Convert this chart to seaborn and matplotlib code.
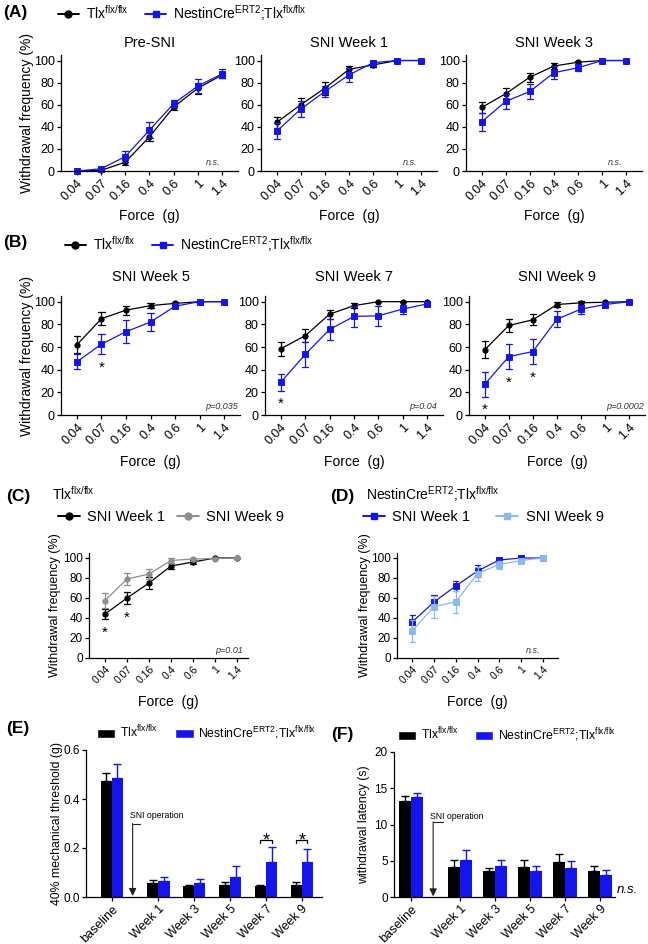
import matplotlib

matplotlib.use("Agg")
import matplotlib.pyplot as plt
import numpy as np
import pandas as pd
import seaborn as sns
from matplotlib.lines import Line2D
from matplotlib.patches import Patch

sns.set_theme(style="ticks")
plt.rcParams["font.family"] = ["Liberation Sans", "DejaVu Sans"]
plt.rcParams["mathtext.fontset"] = "custom"
plt.rcParams["mathtext.rm"] = "Liberation Sans"
plt.rcParams["mathtext.it"] = "Liberation Sans:italic"
plt.rcParams["mathtext.bf"] = "Liberation Sans:bold"
for key in ("text.color", "axes.labelcolor", "xtick.color", "ytick.color", "axes.edgecolor"):
    plt.rcParams[key] = "black"
plt.rcParams["axes.linewidth"] = 0.9

W, H = 648, 944

WT = r"Tlx$^{\mathregular{flx/flx}}$"
KO = r"NestinCre$^{\mathregular{ERT2}}$;Tlx$^{\mathregular{flx/flx}}$"
BLACK = "#000000"
BLUE = "#1414f0"
GRAY = "#8e8e8e"
LIGHT_BLUE = "#8cb8f0"

# --- von Frey curves: mean and SEM (%) per filament force ---
FORCES = ["0.04", "0.07", "0.16", "0.4", "0.6", "1", "1.4"]

PRE_WT = [0, 0.5, 8, 31, 58, 75, 87]
PRE_WT_SEM = [0, 0.5, 3, 4, 3, 5, 3]
PRE_KO = [0, 2, 13, 37, 61, 77, 88]
PRE_KO_SEM = [0, 1.5, 5, 7, 3, 6, 4]

W1_WT = [44, 60, 75, 92, 96, 100, 100]
W1_WT_SEM = [5, 6, 6, 3, 2, 0, 0]
W1_KO = [36, 56, 72, 87, 98, 100, 100]
W1_KO_SEM = [7, 7, 5, 6, 2, 0, 0]

W3_WT = [57.5, 70, 85, 95, 98.5, 100, 100]
W3_WT_SEM = [5, 5, 4, 3, 1.5, 0, 0]
W3_KO = [44.5, 63, 72, 89, 93.5, 100, 100]
W3_KO_SEM = [8, 7, 7, 6, 3, 0, 0]

W5_WT = [62, 85, 92.5, 96.5, 98.5, 100, 100]
W5_WT_SEM = [7.5, 6, 4, 2.5, 1, 0, 0]
W5_KO = [47, 62.5, 73.5, 82, 96, 100, 100]
W5_KO_SEM = [6.5, 9, 10, 8, 2, 0, 0]

W7_WT = [58.5, 70, 89, 96.5, 100, 100, 100]
W7_WT_SEM = [6, 6, 4, 2.5, 0, 0, 0]
W7_KO = [29, 53.5, 75.5, 87, 87.5, 93.5, 98]
W7_KO_SEM = [7.5, 11, 9.5, 9, 9, 4, 2]

W9_WT = [57.5, 79, 84, 97.5, 99, 99.5, 100]
W9_WT_SEM = [7.5, 6, 5, 2.5, 1.5, 0.5, 0]
W9_KO = [27, 51.5, 56, 84.5, 93.5, 97.5, 100]
W9_KO_SEM = [11, 11, 11, 7, 4, 2, 0]

# --- 40% threshold (g) and thermal latency (s) ---
WEEKS = ["baseline", "Week 1", "Week 3", "Week 5", "Week 7", "Week 9"]
E_WT = [0.475, 0.059, 0.045, 0.050, 0.045, 0.050]
E_WT_SEM = [0.030, 0.012, 0.005, 0.011, 0.004, 0.010]
E_KO = [0.487, 0.065, 0.056, 0.082, 0.143, 0.143]
E_KO_SEM = [0.054, 0.016, 0.016, 0.043, 0.062, 0.053]
E_STARS = [4, 5]

F_WT = [13.2, 4.1, 3.55, 4.15, 4.8, 3.55]
F_WT_SEM = [0.8, 0.95, 0.5, 1.0, 1.1, 0.75]
F_KO = [13.8, 5.05, 4.3, 3.65, 4.0, 3.0]
F_KO_SEM = [0.6, 1.4, 0.75, 0.65, 0.9, 0.75]

# layout (pixels: left, top, right, bottom)
A_BOXES = [(61, 55, 238, 171), (261, 55, 437, 171), (466, 55, 642, 171)]
B_BOXES = [(61, 296, 240, 415), (265, 296, 443, 415), (469, 296, 645, 415)]
C_BOX = (89, 553, 248, 658)
D_BOX = (397, 553, 558, 658)
E_BOX = (86, 750, 322, 897)
F_BOX = (394, 752, 615, 897)
E_SLOTS = [0, 1.3, 2.3, 3.3, 4.3, 5.3]
F_SLOTS = [0, 1.4, 2.4, 3.4, 4.4, 5.4]


def add_axes_px(fig, box):
    left, top, right, bottom = box
    return fig.add_axes([left / W, 1 - bottom / H, (right - left) / W, (bottom - top) / H])


def place_labels(ax, box, ylabel_right=None, xlabel_top=None):
    left, top, right, bottom = box
    if ylabel_right is not None:
        ax.yaxis.set_label_coords((ylabel_right - left) / (right - left), 0.5)
    if xlabel_top is not None:
        ax.xaxis.set_label_coords(0.5, (bottom - xlabel_top) / (bottom - top))


def sem_span(values):
    return values.min(), values.max()


def curve_frame(curves):
    rows = []
    for name, means, sems in curves:
        for force, m, s in zip(FORCES, means, sems):
            rows.append((name, force, m - s))
            rows.append((name, force, m + s))
    return pd.DataFrame(rows, columns=["group", "force", "freq"])


def draw_curves(ax, curves, colors, markers, xlim, tick_sizes=(9, 9)):
    sns.pointplot(
        data=curve_frame(curves), x="force", y="freq", hue="group", order=FORCES,
        hue_order=[c[0] for c in curves], palette=colors, markers=markers,
        linestyles="-", markersize=3.8, linewidth=0.9, errorbar=sem_span,
        capsize=0.25, err_kws={"linewidth": 0.9}, dodge=False, legend=False, ax=ax,
    )
    for artist in [*ax.lines, *ax.collections]:
        artist.set_clip_on(False)
    ax.set_xlim(*xlim)
    ax.set_ylim(0, 105)
    ax.set_yticks(range(0, 101, 20))
    ax.set_xlabel("Force  (g)", fontsize=10)
    ax.set_ylabel("")
    ax.tick_params(axis="x", labelsize=tick_sizes[0], rotation=45, length=3, width=0.9, pad=1.5)
    ax.tick_params(axis="y", labelsize=tick_sizes[1], length=3, width=0.9, pad=1.5)
    for label in ax.get_xticklabels():
        label.set_ha("right")
        label.set_rotation_mode("anchor")
    sns.despine(ax=ax)


def add_stars(ax, idx, means, sems):
    for i in idx:
        ax.annotate("*", xy=(i, means[i] - sems[i]), xytext=(0, -12.5),
                    textcoords="offset points", ha="center", va="baseline", fontsize=11)


def corner_note(ax, x, text, size=6.5):
    ax.text(x, 0.075, text, transform=ax.transAxes, ha="right", va="center",
            fontsize=size, style="italic", color="#333333")


def draw_bars(ax, slots, wt, wt_sem, ko, ko_sem, width):
    frame = pd.DataFrame({
        "slot": list(slots) * 2,
        "value": wt + ko,
        "group": [WT] * len(wt) + [KO] * len(ko),
    })
    sns.barplot(data=frame, x="slot", y="value", hue="group", hue_order=[WT, KO],
                palette=[BLACK, BLUE], native_scale=True, width=width, errorbar=None,
                saturation=1, linewidth=0, legend=False, ax=ax)
    bar_sets = list(ax.containers)
    for bars, sems, color in zip(bar_sets, (wt_sem, ko_sem), (BLACK, BLUE)):
        xs = [b.get_x() + b.get_width() / 2 for b in bars]
        ys = [b.get_height() for b in bars]
        ax.errorbar(xs, ys, yerr=[np.zeros(len(sems)), sems], fmt="none",
                    ecolor=color, elinewidth=1, capsize=3, capthick=1)
    ax.set_xticks(slots, WEEKS, rotation=45, ha="right", rotation_mode="anchor", fontsize=9)
    ax.set_xlabel("")
    ax.tick_params(axis="both", length=3, width=0.9, pad=1.5)
    ax.tick_params(axis="y", labelsize=8.5)
    sns.despine(ax=ax)
    return bar_sets


def sni_arrow(ax, text_xy, corner, tip_y, hook_x):
    ax.text(*text_xy, "SNI operation", fontsize=6.3, ha="left", va="center")
    ax.plot([hook_x, corner[0]], [corner[1], corner[1]], color="#222222", lw=0.8)
    ax.annotate("", xy=(corner[0], tip_y), xytext=corner,
                arrowprops=dict(arrowstyle="-|>,head_length=0.45,head_width=0.22",
                                color="#222222", lw=0.8, shrinkA=0, shrinkB=0,
                                mutation_scale=10))


def line_handles(colors, markers):
    return [Line2D([0], [0], color=c, marker=m, markersize=5, linewidth=1.4)
            for c, m in zip(colors, markers)]


fig = plt.figure(figsize=(W / 100, H / 100), dpi=100)

# (A) and (B) rows
row_a = [("Pre-SNI", PRE_WT, PRE_WT_SEM, PRE_KO, PRE_KO_SEM, "n.s.", 0.9),
         ("SNI Week 1", W1_WT, W1_WT_SEM, W1_KO, W1_KO_SEM, "n.s.", 0.886),
         ("SNI Week 3", W3_WT, W3_WT_SEM, W3_KO, W3_KO_SEM, "n.s.", 0.886)]
row_b = [("SNI Week 5", W5_WT, W5_WT_SEM, W5_KO, W5_KO_SEM, "p=0.035", 0.99, [1]),
         ("SNI Week 7", W7_WT, W7_WT_SEM, W7_KO, W7_KO_SEM, "p=0.04", 0.966, [0]),
         ("SNI Week 9", W9_WT, W9_WT_SEM, W9_KO, W9_KO_SEM, "p=0.0002", 0.994, [0, 1, 2])]

for i, (box, (title, wt, wts, ko, kos, note, nx)) in enumerate(zip(A_BOXES, row_a)):
    ax = add_axes_px(fig, box)
    draw_curves(ax, [(WT, wt, wts), (KO, ko, kos)], [BLACK, BLUE], ["o", "s"], (-0.65, 6.65))
    ax.set_title(title, fontsize=10.5, pad=5.5)
    corner_note(ax, nx, note)
    if i == 0:
        ax.set_ylabel("Withdrawal frequency (%)", fontsize=10)
    place_labels(ax, box, ylabel_right=34, xlabel_top=209)

for i, (box, (title, wt, wts, ko, kos, note, nx, stars)) in enumerate(zip(B_BOXES, row_b)):
    ax = add_axes_px(fig, box)
    draw_curves(ax, [(WT, wt, wts), (KO, ko, kos)], [BLACK, BLUE], ["o", "s"], (-0.65, 6.65))
    ax.set_title(title, fontsize=10.5, pad=11)
    corner_note(ax, nx, note)
    add_stars(ax, stars, ko, kos)
    if i == 0:
        ax.set_ylabel("Withdrawal frequency (%)", fontsize=10)
    place_labels(ax, box, ylabel_right=34, xlabel_top=455)

# (C) Tlx flx/flx week 1 vs week 9
ax = add_axes_px(fig, C_BOX)
draw_curves(ax, [("SNI Week 1", W1_WT, W1_WT_SEM), ("SNI Week 9", W9_WT, W9_WT_SEM)],
            [BLACK, GRAY], ["o", "o"], (-0.73, 6.5), tick_sizes=(7.5, 8.5))
add_stars(ax, [0, 1], W1_WT, W1_WT_SEM)
corner_note(ax, 0.97, "p=0.01")
ax.set_ylabel("Withdrawal frequency (%)", fontsize=9)
place_labels(ax, C_BOX, ylabel_right=61, xlabel_top=695)

# (D) NestinCre week 1 vs week 9
ax = add_axes_px(fig, D_BOX)
draw_curves(ax, [("SNI Week 1", W1_KO, W1_KO_SEM), ("SNI Week 9", W9_KO, W9_KO_SEM)],
            [BLUE, LIGHT_BLUE], ["s", "s"], (-0.7, 6.7), tick_sizes=(7.5, 8.5))
corner_note(ax, 0.89, "n.s.")
ax.set_ylabel("Withdrawal frequency (%)", fontsize=9)
place_labels(ax, D_BOX, ylabel_right=371, xlabel_top=695)

# (E) 40% mechanical threshold
ax = add_axes_px(fig, E_BOX)
bar_sets = draw_bars(ax, E_SLOTS, E_WT, E_WT_SEM, E_KO, E_KO_SEM, 0.62)
ax.set_xlim(-0.72, 5.86)
ax.set_ylim(0, 0.6)
ax.set_yticks([0, 0.2, 0.4, 0.6], ["0.0", "0.2", "0.4", "0.6"])
ax.set_ylabel("40% mechanical threshold (g)", fontsize=8.8)
place_labels(ax, E_BOX, ylabel_right=63)
sni_arrow(ax, (0.5, 0.334), (0.58, 0.30), 0.004, 0.78)
bracket_y = 0.232
for i in E_STARS:
    x0 = bar_sets[0][i].get_x() + bar_sets[0][i].get_width() / 2
    x1 = bar_sets[1][i].get_x() + bar_sets[1][i].get_width() / 2
    ax.plot([x0, x0, x1, x1], [bracket_y - 0.01, bracket_y, bracket_y, bracket_y - 0.01],
            color=BLACK, lw=0.9)
    ax.annotate("*", xy=((x0 + x1) / 2, bracket_y), xytext=(0, -3.5),
                textcoords="offset points", ha="center", va="baseline", fontsize=13)

# (F) thermal withdrawal latency
ax = add_axes_px(fig, F_BOX)
draw_bars(ax, F_SLOTS, F_WT, F_WT_SEM, F_KO, F_KO_SEM, 0.68)
ax.set_xlim(-0.49, 5.83)
ax.set_ylim(0, 20)
ax.set_yticks([0, 5, 10, 15, 20])
ax.set_ylabel("withdrawal latency (s)", fontsize=8.8)
place_labels(ax, F_BOX, ylabel_right=370)
sni_arrow(ax, (0.54, 11.1), (0.63, 10.35), 0.08, 0.91)
ax.text(1.01, 0.045, "n.s.", transform=ax.transAxes, ha="left", va="center",
        fontsize=9.5, style="italic")

# panel letters, titles and legends
for letter, x, y in [("(A)", 3, 13), ("(B)", 3, 243), ("(C)", 6, 497),
                     ("(D)", 330, 497), ("(E)", 6, 728), ("(F)", 331, 735)]:
    fig.text(x / W, 1 - y / H, letter, fontsize=12.5, fontweight="bold", va="center")
fig.text(52 / W, 1 - 494 / H, WT, fontsize=10, va="center")
fig.text(366 / W, 1 - 494 / H, KO, fontsize=10, va="center")

legend_kw = dict(loc="center left", ncol=2, frameon=False, borderpad=0,
                 borderaxespad=0, handletextpad=0.5)
fig.legend(line_handles([BLACK, BLUE], ["o", "s"]), [WT, KO], fontsize=10,
           bbox_to_anchor=(58 / W, 1 - 13 / H), handlelength=1.5, columnspacing=1.2,
           **legend_kw)
fig.legend(line_handles([BLACK, BLUE], ["o", "s"]), [WT, KO], fontsize=10,
           bbox_to_anchor=(65 / W, 1 - 244 / H), handlelength=1.5, columnspacing=1.2,
           **legend_kw)
fig.legend(line_handles([BLACK, GRAY], ["o", "o"]), ["SNI Week 1", "SNI Week 9"],
           fontsize=10.5, bbox_to_anchor=(58 / W, 1 - 517 / H), handlelength=1.5,
           columnspacing=0.8, **legend_kw)
fig.legend(line_handles([BLUE, LIGHT_BLUE], ["s", "s"]), ["SNI Week 1", "SNI Week 9"],
           fontsize=10.5, bbox_to_anchor=(363 / W, 1 - 517 / H), handlelength=1.5,
           columnspacing=1.8, **legend_kw)
bar_handles = [Patch(facecolor=BLACK), Patch(facecolor=BLUE)]
fig.legend(bar_handles, [WT, KO], fontsize=8.8, bbox_to_anchor=(97 / W, 1 - 733 / H),
           handlelength=1.5, handleheight=0.8, handletextpad=0.4, columnspacing=1.4,
           **{k: v for k, v in legend_kw.items() if k != "handletextpad"})
fig.legend(bar_handles, [WT, KO], fontsize=8.8, bbox_to_anchor=(398 / W, 1 - 735 / H),
           handlelength=1.5, handleheight=0.8, handletextpad=0.4, columnspacing=1.3,
           **{k: v for k, v in legend_kw.items() if k != "handletextpad"})

fig.savefig("out.png", dpi=100)
plt.close(fig)
